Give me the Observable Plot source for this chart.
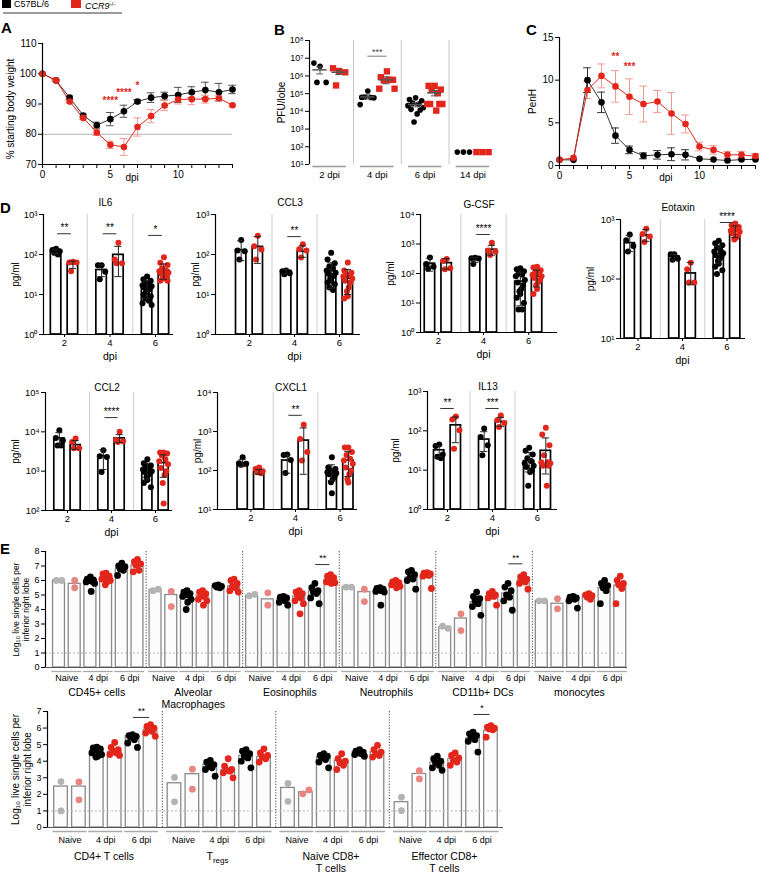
<!DOCTYPE html>
<html><head><meta charset="utf-8">
<script src="https://cdn.jsdelivr.net/npm/d3@7"></script>
<script src="https://cdn.jsdelivr.net/npm/@observablehq/plot@0.6"></script>
<style>
html,body{margin:0;padding:0;background:#fff;overflow:hidden;}
#root{position:relative;width:760px;height:874px;font-family:"Liberation Sans",Arial,Helvetica,sans-serif;color:#000;}
.abs{position:absolute;white-space:nowrap;}
.plab{position:absolute;font-weight:bold;font-size:15px;line-height:15px;}
</style></head><body><div id="root">
<div class="abs" style="left:2px;top:0px;width:9px;height:8px;background:#000"></div>
<div class="abs" style="left:14px;top:0px;font-size:9px;line-height:9px">C57BL/6</div>
<div class="abs" style="left:71px;top:0px;width:10px;height:8px;background:#e3261b"></div>
<div class="abs" style="left:85px;top:0px;font-size:9px;line-height:9px"><i>CCR9</i><span style="font-size:6px;vertical-align:3px">-/-</span></div>
<div class="abs" style="left:3px;top:12px;width:119px;height:1.5px;background:#9a9a9a"></div>
<div class="plab" style="left:1px;top:20px">A</div>
<div class="plab" style="left:274px;top:22px">B</div>
<div class="plab" style="left:526px;top:22px">C</div>
<div class="plab" style="left:0px;top:200px">D</div>
<div class="plab" style="left:0px;top:541px">E</div>
</div>
<script>
// ---------------- DATA ----------------
// Panel A: % starting body weight
const A_days = [0,1,2,3,4,5,6,7,8,9,10,11,12,13,14];
const A_b6 = [100, 97.8, 92.1, 86.2, 83.0, 85.0, 87.6, 90.8, 92.1, 92.6, 93.0, 93.9, 94.6, 93.9, 94.8];
const A_b6_err = [0, 0.3, 0.5, 0.5, 1.0, 2.2, 2.0, 0.6, 1.6, 1.3, 2.5, 1.8, 2.6, 2.9, 1.4];
const A_ko = [100, 97.8, 90.8, 85.4, 80.6, 76.5, 75.8, 82.4, 86.0, 89.5, 91.5, 91.6, 91.6, 91.9, 89.6];
const A_ko_err = [0, 0.3, 0.5, 0.5, 1.0, 1.2, 2.8, 3.0, 2.2, 1.7, 1.5, 1.8, 1.3, 0.8, 0.4];
const A_sig = [[5, "****", 91.0], [6, "****", 93.8], [7, "*", 95.9]];

// Panel B: PFU/lobe
const B_groups = ["2 dpi", "4 dpi", "6 dpi", "14 dpi"];
const B_b6 = [[3.5e6,5.3e6,4.3e5,4.3e5],[1.4e5,6.3e4,5.8e4,6.5e4,6e4,2.4e4],[5.8e4,4.7e4,4e4,2.9e4,2.6e4,2.1e4,1.6e4,1.3e4,1.2e4,7.2e3,2.5e3],[50,50,50]];
const B_ko = [[1.9e6,2.7e6,1.6e6,2.9e5],[1.8e6,8.5e5,6e5,5.5e5,6e5,1.9e5,1.9e5],[2.75e5,2.75e5,1.7e5,1.7e5,1.05e5,2.6e4,2.6e4,2.6e4,2.6e4,1.1e4],[50,50,50]];
const B_meanB6 = [2.2e6, 6.5e4, 2.4e4, null], B_loB6 = [1.3e6, 5e4, 1.8e4, null], B_hiB6 = [3.2e6, 8.5e4, 3.1e4, null];
const B_meanKO = [1.6e6, 6e5, 1.1e5, null], B_loKO = [1.2e6, 3.6e5, 7.5e4, null], B_hiKO = [2.1e6, 9e5, 1.5e5, null];
const B_sig = [[1, "***", 1.3e7]];

// Panel C: PenH
const C_days = [0,1,2,3,4,5,6,7,8,9,10,11,12,13,14];
const C_b6 = [0.66, 0.66, 10.0, 7.4, 3.5, 1.83, 1.13, 1.25, 1.32, 1.25, 0.78, 0.7, 0.58, 0.7, 0.7];
const C_b6_err = [0.1, 0.1, 1.45, 1.2, 0.9, 0.45, 0.35, 0.5, 0.75, 0.6, 0.15, 0.15, 0.15, 0.2, 0.15];
const C_ko = [0.66, 0.9, 8.85, 10.5, 9.27, 8.06, 7.2, 7.5, 6.1, 4.87, 2.22, 1.83, 1.25, 1.25, 1.1];
const C_ko_err = [0.1, 0.15, 1.0, 1.4, 1.85, 2.1, 2.1, 1.3, 2.45, 1.05, 0.5, 0.5, 0.4, 0.4, 0.3];
const C_sig = [[4, "**", 12.7], [5, "***", 11.6]];

// Panel D: cytokines (pg/ml), groups at 2, 4, 6 dpi
const IL6_B6 = [[140,130,120,110,100],[54,54,37,24],[28,24,22,20,18,17,16,15,14,13,12,11,10,9,8,7,6,5.5]];
const IL6_KO = [[66,63,63,38],[196,75,60,60],[85,62,55,45,40,38,35,33,30,28,26,25,22,22]];
const IL6_barB6 = [121, 41, 15.6], IL6_barKO = [57, 98, 40];
const IL6_errB6 = [[105,135],[28,55],[8,22]], IL6_errKO = [[45,68],[28,160],[24,58]];
const IL6_sig = [[2,"**",330],[4,"**",330],[6,"*",300]];

const CCL3_B6 = [[230,125,120,75],[40,38,34,32],[110,75,60,50,45,40,35,33,30,28,25,22,20,18,15,13]];
const CCL3_KO = [[293,160,133,75],[181,136,125,84],[63,40,35,32,30,28,25,22,20,15,12,9,8]];
const CCL3_barB6 = [128, 39, 38], CCL3_barKO = [155, 117, 25];
const CCL3_errB6 = [[70,220],[33,42],[14,62]], CCL3_errKO = [[60,280],[85,165],[10,42]];
const CCL3_sig = [[4,"**",280]];

const GCSF_B6 = [[350,210,170,145],[340,330,320,210],[150,140,120,100,90,80,60,50,40,30,25,20,15,10,6,6]];
const GCSF_KO = [[310,270,150,140],[1100,600,560,420],[170,160,130,110,100,90,80,70,60,50,40,30,20]];
const GCSF_barB6 = [215, 310, 53], GCSF_barKO = [225, 640, 78];
const GCSF_errB6 = [[120,330],[240,350],[8,110]], GCSF_errKO = [[140,320],[420,900],[35,130]];
const GCSF_sig = [[4,"****",2100]];

const EOT_B6 = [[560,450,360,290],[260,260,220,210],[440,400,370,340,300,290,270,250,240,220,200,180,160,140,121]];
const EOT_KO = [[700,570,520,420],[188,146,87,87],[860,800,750,700,680,650,620,580,540,500,460]];
const EOT_barB6 = [400, 240, 262], EOT_barKO = [540, 124, 640];
const EOT_errB6 = [[290,540],[205,260],[180,360]], EOT_errKO = [[430,680],[80,190],[500,780]];
const EOT_sig = [[6,"****",890]];

const CCL2_B6 = [[11000,7000,6000,4500,4500],[3400,2400,2300,950],[2000,1600,1400,1300,1200,1100,1000,950,900,800,700,600,500,390]];
const CCL2_KO = [[6800,5500,3800,3800],[10000,6200,5800,5500],[3000,3000,2800,2500,2000,1800,1500,1200,1000,800,500,150]];
const CCL2_barB6 = [6800, 2400, 1050], CCL2_barKO = [4600, 6800, 1600];
const CCL2_errB6 = [[4500,9500],[1100,3500],[600,1600]], CCL2_errKO = [[3600,6000],[5300,8500],[700,2600]];
const CCL2_sig = [[4,"****",23000]];

const CXCL1_B6 = [[218,154,150,140],[256,250,187,86],[218,120,110,100,95,90,85,80,70,60,50,26]];
const CXCL1_KO = [[120,110,95,90,85],[1490,640,300,180],[390,390,300,250,200,180,150,120,100,80,60,49]];
const CXCL1_barB6 = [154, 180, 91], CXCL1_barKO = [91, 585, 180];
const CXCL1_errB6 = [[125,190],[85,250],[55,140]], CXCL1_errKO = [[80,105],[80,1230],[70,310]];
const CXCL1_sig = [[4,"**",2600]];

const IL13_B6 = [[45,41,25,22,20],[114,70,43,24],[37,31,25,20,17,15,13,12,10,9,4]];
const IL13_KO = [[232,193,103,35],[247,185,158,125],[120,81,43,24,16,16,15,13,13,4]];
const IL13_barB6 = [32, 60, 17], IL13_barKO = [138, 168, 31];
const IL13_errB6 = [[22,42],[30,95],[9,28]], IL13_errKO = [[50,225],[130,220],[8,66]];
const IL13_sig = [[2,"**",370],[4,"***",370]];

// Panel E: log10 live single cells per inferior right lobe
// groups per cell type: Naive B6, Naive CCR9, 4dpi B6, 4dpi CCR9, 6dpi B6, 6dpi CCR9
const E_groupLabels = ["Naive", "4 dpi", "6 dpi"];
const E_topCells = ["CD45+ cells", "Alveolar\nMacrophages", "Eosinophils", "Neutrophils", "CD11b+ DCs", "monocytes"];
const E_CD45_bar = [6.0, 5.77, 6.0, 6.2, 6.8, 7.05];
const E_CD45_pts = [[6.0,6.0],[6.0,5.5],[6.25,6.1,6.05,6.0,5.95,5.9,5.8,5.25],[6.5,6.45,6.3,6.2,6.15,6.1,6.0,5.9,5.7],[7.2,7.0,6.95,6.8,6.7,6.35],[7.45,7.3,7.15,7.05,6.7,6.6]];
const E_AM_bar = [5.35, 5.0, 5.0, 4.95, 5.6, 5.6];
const E_AM_pts = [[5.3,5.4],[5.25,4.2],[5.3,5.2,5.1,5.05,5.0,4.9,4.7,4.5,4.0],[5.3,5.2,5.1,5.0,4.9,4.7,4.6,4.3],[5.7,5.65,5.6,5.55,5.5],[6.1,6.0,5.8,5.6,5.5,5.3,5.2]];
const E_EOS_bar = [4.95, 4.7, 4.75, 4.9, 5.25, 6.05];
const E_EOS_pts = [[4.95,5.05],[5.15,4.3],[4.9,4.85,4.8,4.7,4.6,4.5,4.3],[5.3,5.2,5.1,4.9,4.8,4.6,4.4,3.7],[5.8,5.5,5.3,5.2,5.1,4.8,4.4],[6.4,6.3,6.2,6.1,6.0,5.9,5.85,5.8]];
const E_NEU_bar = [5.55, 5.2, 5.3, 5.75, 6.2, 6.35];
const E_NEU_pts = [[5.55,5.55],[5.4,4.55],[5.5,5.45,5.4,5.35,5.3,5.25,5.2,4.3],[6.0,5.9,5.85,5.8,5.75,5.7,5.6,5.5],[6.7,6.6,6.4,6.2,6.1,6.0,5.4],[6.55,6.5,6.45,6.4,6.35,6.3,5.45]];
const E_DC_bar = [2.78, 3.38, 4.5, 4.85, 5.1, 6.0];
const E_DC_pts = [[2.85,2.7],[3.7,2.55],[5.2,4.9,4.75,4.6,4.4,4.2,3.6],[5.25,5.1,5.0,4.95,4.9,4.8,4.3],[5.8,5.55,5.3,5.0,4.85,4.6,3.95],[6.4,6.25,6.1,6.0,5.9,5.8,5.4]];
const E_MONO_bar = [4.6, 4.4, 4.75, 5.0, 5.5, 5.65];
const E_MONO_pts = [[4.6,4.6],[4.75,4.05],[4.9,4.85,4.8,4.75,4.7,4.6,4.1],[5.1,5.0,4.95,4.85,4.7],[6.0,5.8,5.65,5.5,5.3,4.4],[6.3,6.0,5.8,5.7,5.45,4.4]];
const E_topSig = [[2, "**", 7.1], [4, "**", 7.15]];

const E_botCells = ["CD4+ T cells", "Tregs", "Naive CD8+\nT cells", "Effector CD8+\nT cells"];
const E_CD4_bar = [2.47, 2.47, 4.63, 4.56, 5.5, 5.9];
const E_CD4_pts = [[2.77,1.0],[2.75,1.67],[4.85,4.8,4.75,4.7,4.6,4.5,4.4,4.3,4.25],[5.13,4.83,4.7,4.6,4.5,4.4,4.35],[5.6,5.55,5.5,5.45,5.3,5.1,4.83],[6.2,6.1,6.0,5.9,5.8,5.7,5.5]];
const E_TREG_bar = [2.67, 3.22, 3.78, 3.46, 4.32, 4.26];
const E_TREG_pts = [[3.02,1.55],[3.52,2.31],[4.05,3.95,3.8,3.7,3.6,3.5,3.1],[4.15,3.7,3.5,3.45,3.4,3.3,3.0],[4.7,4.6,4.45,4.3,4.2,4.0,3.6],[4.75,4.5,4.35,4.25,4.15,3.95]];
const E_NCD8_bar = [2.39, 2.13, 4.24, 4.04, 4.58, 4.54];
const E_NCD8_pts = [[2.66,1.58],[2.03,2.27],[4.45,4.35,4.3,4.2,4.1,3.95,3.6],[4.45,4.15,4.0,3.9,3.75,3.5],[4.7,4.6,4.55,4.5,4.45,4.4,4.3],[4.95,4.7,4.55,4.45,4.35,4.25]];
const E_ECD8_bar = [1.53, 3.23, 3.93, 4.14, 5.38, 5.84];
const E_ECD8_pts = [[1.83,1.02],[3.43,2.93],[4.3,4.15,4.0,3.9,3.75,3.6,3.45],[4.5,4.35,4.2,4.05,3.95,3.75],[5.75,5.65,5.55,5.45,5.3,5.2,4.55],[6.15,6.05,6.0,5.95,5.9,5.45]];
const E_botSig = [[0, "**", 6.64], [3, "*", 6.82]];

// ---------------- HELPERS ----------------
const root = document.getElementById("root");
const FONT = '"Liberation Sans", Arial, Helvetica, sans-serif';
const RED = "#e3261b", LRED = "#f19a93", PINK = "#e98580", GREY = "#b4b4b4";
const SUPS = {"0":"⁰","1":"¹","2":"²","3":"³","4":"⁴","5":"⁵","6":"⁶","7":"⁷","8":"⁸","9":"⁹"};
const pow10 = d => "10" + String(Math.round(Math.log10(d))).split("").map(c => SUPS[c]).join("");
const baseStyle = fs => ({fontFamily: FONT, fontSize: fs + "px", background: "transparent", overflow: "visible"});
function place(svg, left, top) {
  svg.style.position = "absolute"; svg.style.left = left + "px"; svg.style.top = top + "px";
  svg.style.overflow = "visible"; root.appendChild(svg); return svg;
}
const JIT = [0, -0.16, 0.16, -0.08, 0.08, -0.2, 0.2, -0.12, 0.12, 0.04, -0.04];
const jit = j => JIT[j % JIT.length];
const ylab = (txt, dx, fs, extra = {}) =>
  Plot.text([txt], {text: d => d, frameAnchor: "left", textAnchor: "middle", rotate: -90, dx: -dx, fontSize: fs, ...extra});

// ---------------- PANEL A ----------------
(function () {
  const b6 = A_days.map((d, i) => ({d, v: A_b6[i], e: A_b6_err[i]}));
  const ko = A_days.map((d, i) => ({d, v: A_ko[i], e: A_ko_err[i]}));
  const cap = 0.28;
  const err = (data, color) => {
    const f = data.filter(r => r.e > 0);
    return [
      Plot.ruleX(f, {x: "d", y1: r => r.v - r.e, y2: r => r.v + r.e, stroke: color}),
      Plot.ruleY(f, {y: r => r.v + r.e, x1: r => r.d - cap, x2: r => r.d + cap, stroke: color}),
      Plot.ruleY(f, {y: r => r.v - r.e, x1: r => r.d - cap, x2: r => r.d + cap, stroke: color})
    ];
  };
  const sig = A_sig.map(([d, t, y]) => ({d, t, y}));
  const svg = Plot.plot({
    width: 240, height: 159, marginLeft: 42, marginRight: 8, marginTop: 13, marginBottom: 25,
    style: baseStyle(10),
    x: {domain: [0, 14], ticks: A_days, tickFormat: d => (d % 5 === 0 ? String(d) : ""), tickSize: 4, tickPadding: 2, label: null},
    y: {domain: [70, 110], ticks: [70, 80, 90, 100, 110], tickFormat: d => String(d), tickSize: 4, tickPadding: 2, label: null},
    marks: [
      Plot.ruleY([80], {stroke: "#b0b0b0"}),
      ...err(b6, "#555"),
      ...err(ko, LRED),
      Plot.line(b6, {x: "d", y: "v", stroke: "#333", strokeWidth: 1}),
      Plot.line(ko, {x: "d", y: "v", stroke: RED, strokeWidth: 1}),
      Plot.dot(b6, {x: "d", y: "v", r: 3.3, fill: "black"}),
      Plot.dot(ko, {x: "d", y: "v", r: 3.3, fill: RED}),
      Plot.ruleX([0], {stroke: "black", strokeWidth: 1.2}),
      Plot.ruleY([70], {stroke: "black", strokeWidth: 1.2}),
      Plot.text(sig, {x: "d", y: "y", text: "t", fill: RED, fontSize: 10, fontWeight: "bold"}),
      ylab("% starting body weight", 32, 10, {dy: 5}),
      Plot.text(["dpi"], {text: d => d, x: () => 6.6, frameAnchor: "bottom", dy: 16, fontSize: 10})
    ]
  });
  place(svg, 0, 30);
})();

// ---------------- PANEL B ----------------
(function () {
  const off = 0.2;
  const pB6 = B_b6.flatMap((vals, g) => vals.map((v, j) => ({x: g - off + jit(j) * 0.8, v})));
  const pKO = B_ko.flatMap((vals, g) => vals.map((v, j) => ({x: g + off + jit(j) * 0.8, v})));
  const stats = [
    ...B_meanB6.map((m, g) => ({x: g - off, m, lo: B_loB6[g], hi: B_hiB6[g]})),
    ...B_meanKO.map((m, g) => ({x: g + off, m, lo: B_loKO[g], hi: B_hiKO[g]}))
  ].filter(r => r.m != null);
  const groups = B_groups.map((t, g) => ({g, t}));
  const sig = B_sig.map(([g, t, y]) => ({g, t, y}));
  const xmin = -0.42, xmax = 3.43;
  const svg = Plot.plot({
    width: 230, height: 164, marginLeft: 40, marginRight: 6, marginTop: 15, marginBottom: 25,
    style: baseStyle(9),
    x: {domain: [xmin, xmax], axis: null},
    y: {type: "log", domain: [10, 1e8], ticks: [10, 1e2, 1e3, 1e4, 1e5, 1e6, 1e7, 1e8], tickFormat: pow10, tickSize: 4, tickPadding: 2, label: null},
    marks: [
      Plot.ruleX([0.5, 1.5, 2.5], {y1: 10, y2: 1e8, stroke: "#c8c8c8"}),
      Plot.dot(pB6, {x: "x", y: "v", r: 2.8, fill: "black"}),
      Plot.dot(pKO, {x: "x", y: "v", r: 3.6, symbol: "square", fill: RED}),
      Plot.ruleX(stats, {x: "x", y1: "lo", y2: "hi", stroke: "#555"}),
      Plot.ruleY(stats, {y: "hi", x1: r => r.x - 0.07, x2: r => r.x + 0.07, stroke: "#555"}),
      Plot.ruleY(stats, {y: "lo", x1: r => r.x - 0.07, x2: r => r.x + 0.07, stroke: "#555"}),
      Plot.ruleY(stats, {y: "m", x1: r => r.x - 0.15, x2: r => r.x + 0.15, stroke: "#555", strokeWidth: 1.5}),
      Plot.ruleX([xmin], {stroke: "black", strokeWidth: 1.2}),
      Plot.ruleY(groups, {y: 10, x1: r => r.g - 0.35, x2: r => r.g + 0.35, dy: 2, stroke: "#999", strokeWidth: 1.3}),
      Plot.text(groups, {x: "g", text: "t", frameAnchor: "bottom", dy: 13, fontSize: 9.5}),
      Plot.ruleY(sig, {y: "y", x1: r => r.g - 0.2, x2: r => r.g + 0.2, stroke: "#777"}),
      Plot.text(sig, {x: "g", y: "y", text: "t", dy: -4, fontSize: 9, fill: "#444"}),
      ylab("PFU/lobe", 28, 10)
    ]
  });
  place(svg, 269, 25);
})();

// ---------------- PANEL C ----------------
(function () {
  const b6 = C_days.map((d, i) => ({d, v: C_b6[i], e: C_b6_err[i]}));
  const ko = C_days.map((d, i) => ({d, v: C_ko[i], e: C_ko_err[i]}));
  const cap = 0.28;
  const err = (data, color) => {
    const f = data.filter(r => r.e > 0.2);
    return [
      Plot.ruleX(f, {x: "d", y1: r => r.v - r.e, y2: r => r.v + r.e, stroke: color}),
      Plot.ruleY(f, {y: r => r.v + r.e, x1: r => r.d - cap, x2: r => r.d + cap, stroke: color}),
      Plot.ruleY(f, {y: r => r.v - r.e, x1: r => r.d - cap, x2: r => r.d + cap, stroke: color})
    ];
  };
  const sig = C_sig.map(([d, t, y]) => ({d, t, y}));
  const svg = Plot.plot({
    width: 260, height: 165, marginLeft: 59, marginRight: 5, marginTop: 12, marginBottom: 25,
    style: baseStyle(10),
    x: {domain: [0, 14], ticks: C_days, tickFormat: d => (d % 5 === 0 ? String(d) : ""), tickSize: 4, tickPadding: 2, label: null},
    y: {domain: [0, 15], ticks: [0, 5, 10, 15], tickFormat: d => String(d), tickSize: 4, tickPadding: 2, label: null},
    marks: [
      ...err(ko, LRED),
      ...err(b6, "#333"),
      Plot.line(b6, {x: "d", y: "v", stroke: "#333", strokeWidth: 1}),
      Plot.line(ko, {x: "d", y: "v", stroke: RED, strokeWidth: 1}),
      Plot.dot(b6, {x: "d", y: "v", r: 3.3, fill: "black"}),
      Plot.dot(ko, {x: "d", y: "v", r: 3.3, fill: RED}),
      Plot.ruleX([0], {stroke: "black", strokeWidth: 1.2}),
      Plot.ruleY([0], {stroke: "black", strokeWidth: 1.2}),
      Plot.text(sig, {x: "d", y: "y", text: "t", fill: RED, fontSize: 10, fontWeight: "bold"}),
      ylab("PenH", 27, 10),
      Plot.text(["dpi"], {text: d => d, x: () => 7.6, frameAnchor: "bottom", dy: 15, fontSize: 10})
    ]
  });
  place(svg, 500, 25);
})();

// ---------------- PANEL D ----------------
function cyto(name, B6, KO, barB6, barKO, errB6, errKO, sigArr, dom, L) {
  const {axisX, c4, ppu, xEnd, yTop, yBot, titleDy, labDx} = L;
  const mL = 40, mR = 4, mT = 28, mB = 34;
  const xmin = 4 - (c4 - axisX) / ppu, xmax = 4 + (xEnd - c4) / ppu;
  const W = mL + (xEnd - axisX) + mR, H = mT + (yBot - yTop) + mB;
  const dpi = [2, 4, 6], off = 0.37, hw = 0.23, cap = 0.16;
  const bars = dpi.flatMap((d, i) => [
    {x: d - off, v: barB6[i], lo: errB6[i][0], hi: errB6[i][1]},
    {x: d + off, v: barKO[i], lo: errKO[i][0], hi: errKO[i][1]}
  ]);
  const pB6 = dpi.flatMap((d, i) => B6[i].map((v, j) => ({x: d - off + jit(j), v})));
  const pKO = dpi.flatMap((d, i) => KO[i].map((v, j) => ({x: d + off + jit(j), v})));
  const e0 = Math.round(Math.log10(dom[0])), e1 = Math.round(Math.log10(dom[1]));
  const decades = d3.range(e0, e1 + 1).map(e => Math.pow(10, e));
  const sg = sigArr.map(([d, t, y]) => ({d, t, y}));
  const svg = Plot.plot({
    width: W, height: H, marginLeft: mL, marginRight: mR, marginTop: mT, marginBottom: mB,
    style: baseStyle(9.5),
    x: {domain: [xmin, xmax], ticks: [2, 4, 6], tickFormat: d => String(d), tickSize: 3, tickPadding: 2, label: null},
    y: {type: "log", domain: dom, ticks: decades, tickFormat: pow10, tickSize: 4, tickPadding: 2, label: null},
    marks: [
      Plot.ruleX([3, 5], {y1: dom[0], y2: dom[1], stroke: "#cfcfcf"}),
      Plot.rect(bars, {x1: r => r.x - hw, x2: r => r.x + hw, y1: dom[0], y2: "v", fill: "white", stroke: "black", strokeWidth: 1.7}),
      Plot.dot(pB6, {x: "x", y: "v", r: 3, fill: "black"}),
      Plot.dot(pKO, {x: "x", y: "v", r: 3, fill: RED}),
      Plot.ruleX(bars, {x: "x", y1: "lo", y2: "hi", stroke: "#222"}),
      Plot.ruleY(bars, {y: "hi", x1: r => r.x - cap, x2: r => r.x + cap, stroke: "#222"}),
      Plot.ruleY(bars, {y: "lo", x1: r => r.x - cap, x2: r => r.x + cap, stroke: "#222"}),
      Plot.ruleX([xmin], {stroke: "black", strokeWidth: 1.2}),
      Plot.ruleY([dom[0]], {stroke: "black", strokeWidth: 1.2}),
      Plot.ruleY(sg, {y: "y", x1: r => r.d - 0.3, x2: r => r.d + 0.3, stroke: "#333"}),
      Plot.text(sg, {x: "d", y: "y", text: "t", dy: -6, fontSize: 10}),
      Plot.text([name], {text: d => d, x: () => 3.8, frameAnchor: "top", dy: -titleDy, fontSize: 10}),
      ylab("pg/ml", labDx, 10),
      Plot.text(["dpi"], {text: d => d, x: () => 4, frameAnchor: "bottom", dy: 25, fontSize: 10.5})
    ]
  });
  place(svg, axisX - mL, yTop - mT);
}
cyto("IL6", IL6_B6, IL6_KO, IL6_barB6, IL6_barKO, IL6_errB6, IL6_errKO, IL6_sig, [1, 1e3],
  {axisX: 43, c4: 109.5, ppu: 22.75, xEnd: 173, yTop: 214, yBot: 334, titleDy: 16, labDx: 28});
cyto("CCL3", CCL3_B6, CCL3_KO, CCL3_barB6, CCL3_barKO, CCL3_errB6, CCL3_errKO, CCL3_sig, [1, 1e3],
  {axisX: 215, c4: 294, ppu: 22.5, xEnd: 360, yTop: 214, yBot: 334, titleDy: 16, labDx: 20});
cyto("G-CSF", GCSF_B6, GCSF_KO, GCSF_barB6, GCSF_barKO, GCSF_errB6, GCSF_errKO, GCSF_sig, [1, 1e4],
  {axisX: 420, c4: 483, ppu: 22.6, xEnd: 557, yTop: 214, yBot: 332, titleDy: 14, labDx: 30});
cyto("Eotaxin", EOT_B6, EOT_KO, EOT_barB6, EOT_barKO, EOT_errB6, EOT_errKO, EOT_sig, [10, 1e3],
  {axisX: 620, c4: 682, ppu: 22.25, xEnd: 745, yTop: 219, yBot: 338, titleDy: 16, labDx: 30});
cyto("CCL2", CCL2_B6, CCL2_KO, CCL2_barB6, CCL2_barKO, CCL2_errB6, CCL2_errKO, CCL2_sig, [100, 1e5],
  {axisX: 45, c4: 111, ppu: 22, xEnd: 172, yTop: 392, yBot: 510, titleDy: 9, labDx: 30});
cyto("CXCL1", CXCL1_B6, CXCL1_KO, CXCL1_barB6, CXCL1_barKO, CXCL1_errB6, CXCL1_errKO, CXCL1_sig, [10, 1e4],
  {axisX: 217, c4: 295, ppu: 22.3, xEnd: 357, yTop: 392, yBot: 509, titleDy: 9, labDx: 20});
cyto("IL13", IL13_B6, IL13_KO, IL13_barB6, IL13_barKO, IL13_errB6, IL13_errKO, IL13_sig, [1, 1e3],
  {axisX: 427, c4: 492, ppu: 22.5, xEnd: 557, yTop: 391, yBot: 509, titleDy: 9, labDx: 32});

// ---------------- PANEL E ----------------
function eRow(cells, bars, pts, sigArr, L) {
  const {step, ppu, axisX, x0, xEnd, yTop, yBot, ymax, mT, mB, nameDy, grpDy, sepOff, labDx, labFs, svgLeft} = L;
  const mL = axisX - svgLeft, mR = 8;
  const xmin = -(x0 - axisX) / ppu, xmax = (xEnd - x0) / ppu;
  const W = mL + (xEnd - axisX) + mR, H = mT + (yBot - yTop) + mB;
  const colors = [GREY, PINK, "black", RED, "black", RED];
  const barData = cells.flatMap((c, ci) => bars[ci].map((v, b) => ({x: ci * step + b, v})));
  const jitE = (vals, j) => {
    if (vals.length === 2) return Math.abs(vals[0] - vals[1]) > 0.3 ? 0 : (j === 0 ? -0.17 : 0.17);
    return [0, -0.2, 0.2, -0.1, 0.1, -0.27, 0.27, 0.05, -0.05][j % 9];
  };
  const ptData = cells.flatMap((c, ci) => pts[ci].flatMap((vals, b) => vals.map((v, j) => ({x: ci * step + b + jitE(vals, j), v, b}))));
  const pairs = cells.flatMap((c, ci) => E_groupLabels.map((t, k) => ({x: ci * step + 2 * k, t})));
  const seps = cells.slice(1).map((c, i) => (i + 1) * step + sepOff);
  const names = cells.map((c, ci) => ({x: ci * step + 2.4, t: c}));
  const sg = sigArr.map(([ci, t, y]) => ({x: ci * step + 4, t, y}));
  const svg = Plot.plot({
    width: W, height: H, marginLeft: mL, marginRight: mR, marginTop: mT, marginBottom: mB,
    style: baseStyle(9),
    x: {domain: [xmin, xmax], axis: null},
    y: {domain: [0, ymax], ticks: d3.range(0, ymax + 1), tickFormat: d => String(d), tickSize: 4, tickPadding: 2, label: null},
    marks: [
      Plot.ruleX(seps, {x: d => d, y1: 0, y2: ymax, stroke: "#444", strokeDasharray: "1.2,1.6"}),
      Plot.rect(barData, {x1: r => r.x - 0.38, x2: r => r.x + 0.38, y1: 0, y2: "v", fill: "#fcfcfc", stroke: "#8a8a8a", strokeWidth: 1.3}),
      Plot.ruleY([1], {stroke: "#b5b5b5", strokeDasharray: "2,2"}),
      ...[0, 1, 2, 3, 4, 5].map(b => Plot.dot(ptData.filter(p => p.b === b), {x: "x", y: "v", r: 3.4, fill: colors[b]})),
      Plot.ruleX([xmin], {stroke: "black", strokeWidth: 1.2}),
      Plot.ruleY([0], {stroke: "#555", strokeWidth: 1.2}),
      Plot.ruleY(pairs, {y: 0, x1: r => r.x - 0.45, x2: r => r.x + 1.45, dy: 4, stroke: "#aaa", strokeWidth: 1.3}),
      Plot.text(pairs, {x: r => r.x + 0.5, y: 0, text: "t", dy: grpDy, fontSize: 9}),
      Plot.text(names, {x: "x", y: 0, text: "t", lineAnchor: "top", dy: nameDy, fontSize: 10.5, lineHeight: 1.15}),
      Plot.ruleY(sg, {y: "y", x1: r => r.x + 0.05, x2: r => r.x + 0.95, stroke: "#333"}),
      Plot.text(sg, {x: r => r.x + 0.5, y: "y", text: "t", dy: -6, fontSize: 9}),
      ylab("Log₁₀ live single cells per\ninferior right lobe", labDx, labFs, {lineHeight: 1.2})
    ]
  });
  svg.querySelectorAll("text").forEach(t => {
    if (t.textContent === "Tregs") t.innerHTML = 'T<tspan font-size="8" dy="3">regs</tspan>';
  });
  place(svg, svgLeft, yTop - mT);
}
eRow(E_topCells,
  [E_CD45_bar, E_AM_bar, E_EOS_bar, E_NEU_bar, E_DC_bar, E_MONO_bar],
  [E_CD45_pts, E_AM_pts, E_EOS_pts, E_NEU_pts, E_DC_pts, E_MONO_pts],
  E_topSig,
  {step: 6.15, ppu: 15.7, axisX: 45, x0: 58.5, xEnd: 627, yTop: 551, yBot: 667, ymax: 8, mT: 12, mB: 48,
   nameDy: 20, grpDy: 11, sepOff: -0.6, labDx: 25, labFs: 8.5, svgLeft: 0});
eRow(E_botCells,
  [E_CD4_bar, E_TREG_bar, E_NCD8_bar, E_ECD8_bar],
  [E_CD4_pts, E_TREG_pts, E_NCD8_pts, E_ECD8_pts],
  E_botSig,
  {step: 6.34, ppu: 17.9, axisX: 47, x0: 60.5, xEnd: 503, yTop: 711, yBot: 827, ymax: 7, mT: 25, mB: 50,
   nameDy: 24, grpDy: 13, sepOff: -0.68, labDx: 26, labFs: 10, svgLeft: 0});
</script></body></html>
